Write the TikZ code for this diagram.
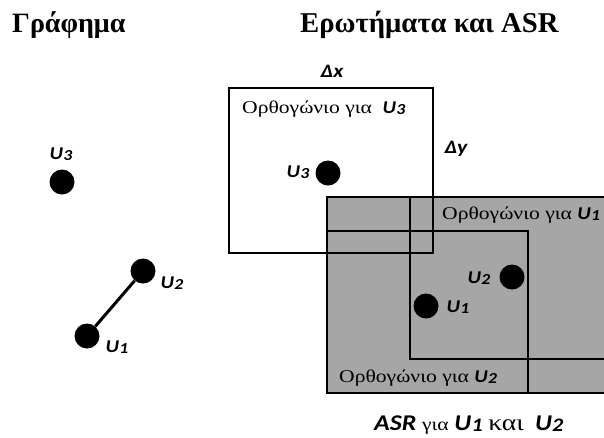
\documentclass[tikz,border=0pt]{standalone}
\usepackage{fontspec}
\setmainfont{Liberation Serif}
\newfontfamily\grfont[FakeStretch=1.2]{Liberation Serif}
\newfontfamily\calfont[FakeStretch=1.15]{Carlito}
\usetikzlibrary{positioning}

\definecolor{asrgray}{RGB}{166,166,166}
% point names U_i in bold italic sans with a small index
\newcommand{\Ulab}[1]{{\calfont\bfseries\itshape U\kern0.2pt\raisebox{-1.5pt}{\scalebox{0.85}{#1}}}}
\newcommand{\fs}[1]{\fontsize{#1}{#1}\selectfont}

\tikzset{
  dot/.style={circle, fill=black, inner sep=0pt, minimum size=25pt},
  txt/.style={inner sep=0pt, anchor=base west},
  lab/.style={inner sep=0pt, font=\fs{18}},
  box/.style={line width=1.6pt}
}

\begin{document}
\begin{tikzpicture}[x=1pt, y=-1pt]
\useasboundingbox (0,0) rectangle (604,437);
\clip (0,0) rectangle (604,437);

% titles
\node[txt] (t1) at (12,32){\fs{28}\bfseries Γράφημα};
\node[txt] (t2) at (300,32){\fs{28.7}\bfseries Ερωτήματα και ASR};

% the graph
\node[dot] (g3) at (62,182){};
\node[dot] (g2) at (143,271){};
\node[dot] (g1) at (87,336){};
\draw[line width=3pt] (g1) -- (g2);
\node[lab] at (61,154){\Ulab{3}};
\node[lab] at (172,283){\Ulab{2}};
\node[lab] at (117,347){\Ulab{1}};

% ASR of U1 and U2
\fill[asrgray] (327,197) rectangle (620,393);
\draw[box] (410,197) rectangle (620,359);
\draw[box] (327,231) rectangle (528,393);
\draw[box] (327,197) rectangle (620,393);

% query rectangle for U3
\draw[box] (229,88) rectangle (433,253);
\node[lab, font=\fs{19}] (dx) at (332,71){{\calfont\bfseries\itshape Δx}};
\node[lab, font=\fs{19}] (dy) at (456,149){{\calfont\bfseries\itshape Δy}};
\node[txt] (r3) at (242,113){\grfont\fs{18}Ορθογώνιο για\ \ \Ulab{3}};
\node[dot] (q3) at (328,173){};
\node[lab] at (298,172){\Ulab{3}};

\node[txt] (r1) at (442,219){\grfont\fs{18}Ορθογώνιο για \Ulab{1}};
\node[txt] (r2) at (339,382){\grfont\fs{18}Ορθογώνιο για \Ulab{2}};
\node[dot] (q2) at (512,277){};
\node[lab] at (479,278){\Ulab{2}};
\node[dot] (q1) at (426,306){};
\node[lab] at (458,307){\Ulab{1}};

\node[txt] (cap) at (374,430){\fs{22.5}{\calfont\bfseries\itshape ASR} {\grfont\fs{18}για} \Ulab{1} {\grfont\fs{23}και} \ \Ulab{2}};
\end{tikzpicture}
\end{document}
